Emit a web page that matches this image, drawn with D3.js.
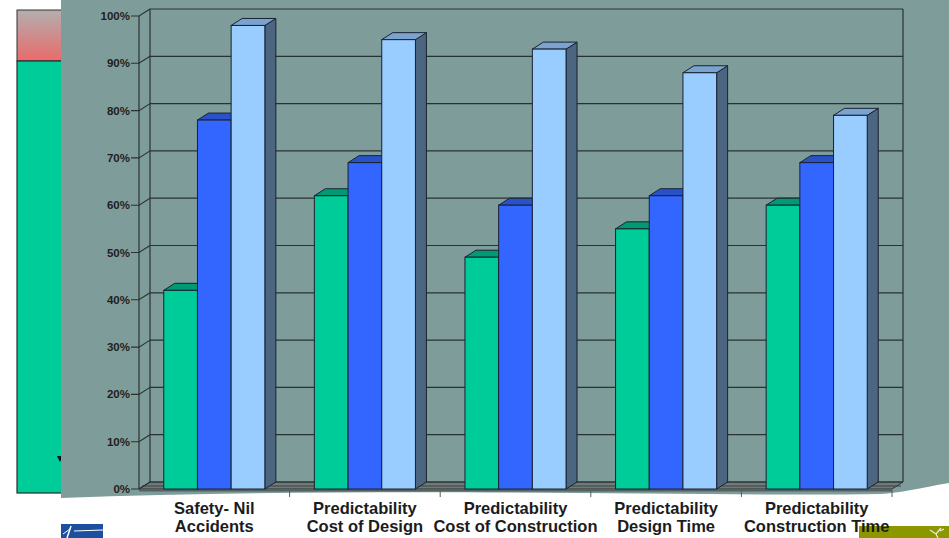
<!DOCTYPE html>
<html>
<head>
<meta charset="utf-8">
<script src="https://cdn.jsdelivr.net/npm/d3@7/dist/d3.min.js"></script>
<style>
  html, body { margin: 0; padding: 0; background: #ffffff; }
  svg { display: block; }
  text { font-family: "Liberation Sans", Arial, sans-serif; }
</style>
</head>
<body>
<svg id="chart" width="949" height="538"></svg>
<script>
// Category labels (two lines each)
const categories = [
  "Safety- Nil\nAccidents",
  "Predictability\nCost of Design",
  "Predictability\nCost of Construction",
  "Predictability\nDesign Time",
  "Predictability\nConstruction Time"
];
const seriesKeys = ["s1", "s2", "s3"];
const series1 = [0.42, 0.62, 0.49, 0.55, 0.60];
const series2 = [0.78, 0.69, 0.60, 0.62, 0.69];
const series3 = [0.98, 0.95, 0.93, 0.88, 0.79];
const yTicks = [0, 0.1, 0.2, 0.3, 0.4, 0.5, 0.6, 0.7, 0.8, 0.9, 1.0];

const seriesValues = [series1, series2, series3];
const faceFront = ["#00cc99", "#3366ff", "#99ccff"];
const faceTop   = ["#009b74", "#2a52c8", "#7aa4cf"];
const faceSide  = ["#007a5c", "#1f3f9c", "#4c6580"];

const svg = d3.select("#chart");
const bg = "#7e9c9a";

// Depth offset of the 3D box
const DX = 11, DY = -7;

// ---- slide elements behind the chart ----
const grad = svg.append("defs").append("linearGradient")
  .attr("id", "topGrad").attr("x1", 0).attr("y1", 0).attr("x2", 0).attr("y2", 1);
grad.append("stop").attr("offset", "0%").attr("stop-color", "#b3afaf");
grad.append("stop").attr("offset", "100%").attr("stop-color", "#ea6b6b");

svg.append("rect").attr("x", 17).attr("y", 10).attr("width", 60).attr("height", 51)
  .attr("fill", "url(#topGrad)").attr("stroke", "#333").attr("stroke-width", 1);
svg.append("rect").attr("x", 17).attr("y", 61).attr("width", 60).attr("height", 432)
  .attr("fill", "#00cc99").attr("stroke", "#2b2b2b").attr("stroke-width", 1.2);
svg.append("path").attr("d", "M57,456 L63,456 L60,462 Z").attr("fill", "#111");

// Teal slide panel carrying the chart
svg.append("path")
  .attr("d", "M61,0 L949,0 L949,483 C 920,488 900,493 880,494 C 700,497 400,486 61,498 Z")
  .attr("fill", bg);

// Bottom-left logo block
svg.append("rect").attr("x", 61).attr("y", 524).attr("width", 42).attr("height", 14).attr("fill", "#1d4f9f");
svg.append("path").attr("d", "M67,538 L71,526").attr("stroke", "#fff").attr("stroke-width", 1.5);
svg.append("path").attr("d", "M74,531 L103,530").attr("stroke", "#fff").attr("stroke-width", 1);
svg.append("path").attr("d", "M63,534 L70,529").attr("stroke", "#fff").attr("stroke-width", 1);

// Bottom-right olive block
svg.append("rect").attr("x", 859).attr("y", 526).attr("width", 90).attr("height", 12).attr("fill", "#8c9700");
svg.append("path").attr("d", "M930,530 L936,534 L941,528 M936,534 L938,538 M940,531 L944,529")
  .attr("stroke", "#eef0d0").attr("stroke-width", 1.2).attr("fill", "none");

// ---- scales ----
const x = d3.scaleBand().domain(categories).range([139, 892]);
const xs = d3.scaleBand().domain(seriesKeys).range([0, x.bandwidth()]).paddingOuter(0.735);
const y = d3.scaleLinear().domain([0, 1]).range([489, 16]);

const x0 = x.range()[0], x1 = x.range()[1];
const g = svg.append("g");

// Floor slab
const yb = y(0);
g.append("path")
  .attr("d", `M${x0},${yb} L${x0 + DX},${yb + DY} L${x1 + DX},${yb + DY} L${x1},${yb} Z`)
  .attr("fill", "#6f7a79").attr("stroke", "#2f3535").attr("stroke-width", 1);
g.append("path")
  .attr("d", `M${x0 + 3},${yb - 3} L${x1 + DX - 2},${yb - 3}`)
  .attr("stroke", "#3a4343").attr("stroke-width", 1);
g.append("rect").attr("x", x0).attr("y", yb).attr("width", x1 - x0).attr("height", 2.5)
  .attr("fill", "#556060");

// Gridlines on back wall and side wall
yTicks.forEach(t => {
  const yf = y(t);
  g.append("line")
    .attr("x1", x0 + DX).attr("x2", x1 + DX).attr("y1", yf + DY).attr("y2", yf + DY)
    .attr("stroke", "#283232").attr("stroke-width", 1.2);
  g.append("path")
    .attr("d", `M${x0 - 8},${yf} L${x0},${yf} L${x0 + DX},${yf + DY}`)
    .attr("fill", "none").attr("stroke", "#283232").attr("stroke-width", 1.1);
});

// Walls outline
g.append("line").attr("x1", x0).attr("x2", x0).attr("y1", y(0)).attr("y2", y(1))
  .attr("stroke", "#283232").attr("stroke-width", 1.2);
g.append("line").attr("x1", x0 + DX).attr("x2", x0 + DX).attr("y1", y(0) + DY).attr("y2", y(1) + DY)
  .attr("stroke", "#283232").attr("stroke-width", 1.2);
g.append("line").attr("x1", x1 + DX).attr("x2", x1 + DX).attr("y1", y(0) + DY).attr("y2", y(1) + DY)
  .attr("stroke", "#283232").attr("stroke-width", 1.2);

// Category tick marks under the floor
categories.forEach((c, i) => {
  const xt = x(c) + x.bandwidth();
  if (i < categories.length) {
    g.append("line").attr("x1", xt).attr("x2", xt).attr("y1", yb + 1).attr("y2", yb + 8)
      .attr("stroke", "#5a5a5a").attr("stroke-width", 1);
  }
});

// Y axis labels
g.selectAll("text.ytick").data(yTicks).join("text")
  .attr("class", "ytick")
  .attr("x", x0 - 9).attr("y", d => y(d)).attr("dy", "0.35em")
  .attr("text-anchor", "end")
  .attr("font-size", 11.5).attr("font-weight", "bold").attr("fill", "#1e1e1e")
  .text(d3.format(".0%"));

// 3D bars
categories.forEach((c, i) => {
  seriesKeys.forEach((k, s) => {
    const v = seriesValues[s][i];
    const bx0 = x(c) + xs(k), bx1 = bx0 + xs.bandwidth();
    const yt = y(v), y0 = y(0);
    const bar = g.append("g");
    bar.append("path")
      .attr("d", `M${bx1},${yt} L${bx1 + DX},${yt + DY} L${bx1 + DX},${y0 + DY} L${bx1},${y0} Z`)
      .attr("fill", faceSide[s]).attr("stroke", "#1a2230").attr("stroke-width", 1).attr("stroke-linejoin", "round");
    bar.append("path")
      .attr("d", `M${bx0},${yt} L${bx0 + DX},${yt + DY} L${bx1 + DX},${yt + DY} L${bx1},${yt} Z`)
      .attr("fill", faceTop[s]).attr("stroke", "#1a2230").attr("stroke-width", 1).attr("stroke-linejoin", "round");
    bar.append("rect")
      .attr("x", bx0).attr("y", yt).attr("width", bx1 - bx0).attr("height", y0 - yt)
      .attr("fill", faceFront[s]).attr("stroke", "#1a2230").attr("stroke-width", 1);
  });
});

// Category labels
categories.forEach(c => {
  const lines = c.split("\n");
  const cx = x(c) + x.bandwidth() / 2;
  const t = svg.append("text")
    .attr("text-anchor", "middle")
    .attr("font-size", 16.5).attr("font-weight", "bold").attr("fill", "#1c1c1c");
  lines.forEach((ln, j) => {
    t.append("tspan").attr("x", cx).attr("y", 514 + j * 18).text(ln);
  });
});
</script>
</body>
</html>
